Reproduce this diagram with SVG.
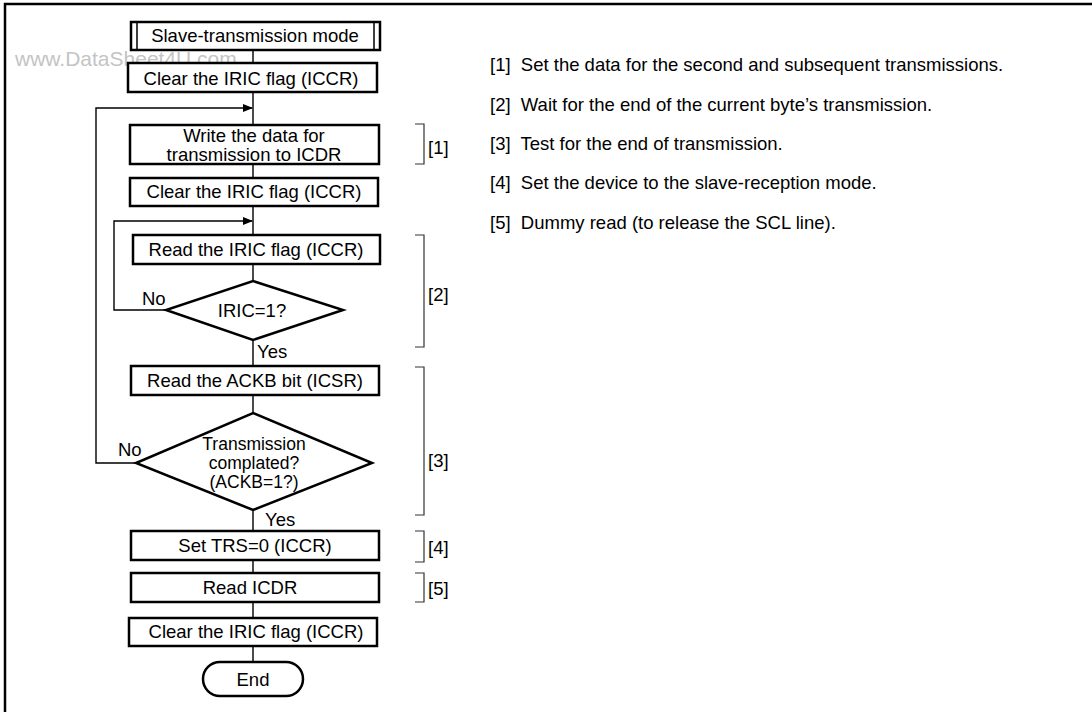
<svg xmlns="http://www.w3.org/2000/svg" width="1092" height="712" viewBox="0 0 1092 712">
<style>
  .box{fill:#fff;stroke:#000;stroke-width:2.5}
  .t{font-family:"Liberation Sans",Arial,sans-serif;font-size:18.5px;fill:#000;text-anchor:middle}
  .d{font-family:"Liberation Sans",Arial,sans-serif;font-size:17.5px;fill:#000;text-anchor:middle}
  .l{font-family:"Liberation Sans",Arial,sans-serif;font-size:18.5px;fill:#000}
  .note{font-family:"Liberation Sans",Arial,sans-serif;font-size:18.5px;fill:#000}
  .c{fill:none;stroke:#000;stroke-width:1.4}
  .br{fill:none;stroke:#333;stroke-width:1.2}
</style>
<defs>
  <marker id="ah" markerWidth="10" markerHeight="8" refX="9" refY="4" orient="auto" markerUnits="userSpaceOnUse">
    <path d="M0,0 L10,4 L0,8 Z" fill="#000"/>
  </marker>
</defs>
<rect width="1092" height="712" fill="#fff"/>
<path d="M5,712 V4 H1092" fill="none" stroke="#000" stroke-width="2.5"/>
<text x="15" y="66" font-family="Liberation Sans,Arial,sans-serif" font-size="21" fill="#c4c4c4">www.DataSheet4U.com</text>

<g id="connectors">
  <path class="c" d="M253,50 V63 M253,92 V125 M253,164 V178 M253,206 V235 M253,264 V281 M253,340 V366 M253,395 V413 M253,510 V531 M253,560 V573 M253,602 V618 M253,646 V662"/>
  <path class="c" d="M136,463 H96 V108 H252" marker-end="url(#ah)"/>
  <path class="c" d="M166,310 H114 V221 H252" marker-end="url(#ah)"/>
</g>

<g id="start">
  <rect class="box" x="131" y="22" width="249" height="28"/>
  <path d="M137,22 V50 M374,22 V50" stroke="#000" stroke-width="1.5"/>
  <text class="t" x="255" y="42">Slave-transmission mode</text>
</g>
<g id="clear1">
  <rect class="box" x="128" y="63" width="249" height="29"/>
  <text class="t" x="251" y="85">Clear the IRIC flag (ICCR)</text>
</g>
<g id="write">
  <rect class="box" x="130" y="125" width="249" height="39"/>
  <text class="t" x="254" y="142">Write the data for</text>
  <text class="t" x="254" y="161">transmission to ICDR</text>
</g>
<g id="clear2">
  <rect class="box" x="130" y="178" width="248" height="28"/>
  <text class="t" x="254" y="198">Clear the IRIC flag (ICCR)</text>
</g>
<g id="readiric">
  <rect class="box" x="133" y="235" width="247" height="29"/>
  <text class="t" x="256" y="256">Read the IRIC flag (ICCR)</text>
</g>
<g id="dec1">
  <polygon class="box" points="253,281 343,310 253,340 166,310"/>
  <text class="t" x="252" y="317">IRIC=1?</text>
  <text class="l" x="142" y="305">No</text>
  <text class="l" x="257" y="358">Yes</text>
</g>
<g id="readackb">
  <rect class="box" x="131" y="366" width="248" height="29"/>
  <text class="t" x="255" y="387">Read the ACKB bit (ICSR)</text>
</g>
<g id="dec2">
  <polygon class="box" points="253,413 372,463 253,510 136,463"/>
  <text class="d" x="254" y="450">Transmission</text>
  <text class="d" x="254" y="469">complated?</text>
  <text class="d" x="254" y="488">(ACKB=1?)</text>
  <text class="l" x="118" y="456">No</text>
  <text class="l" x="265" y="526">Yes</text>
</g>
<g id="settrs">
  <rect class="box" x="131" y="531" width="248" height="29"/>
  <text class="t" x="255" y="552">Set TRS=0 (ICCR)</text>
</g>
<g id="readicdr">
  <rect class="box" x="131" y="573" width="248" height="29"/>
  <text class="t" x="250" y="594">Read ICDR</text>
</g>
<g id="clear3">
  <rect class="box" x="129" y="618" width="248" height="28"/>
  <text class="t" x="256" y="638">Clear the IRIC flag (ICCR)</text>
</g>
<g id="end">
  <rect class="box" x="203" y="662" width="100" height="34" rx="17"/>
  <text class="t" x="253" y="686">End</text>
</g>

<g id="brackets">
  <path class="br" d="M415,124 H424 V164 H415"/>
  <text class="l" x="428" y="154">[1]</text>
  <path class="br" d="M415,235 H424 V347 H415"/>
  <text class="l" x="428" y="301">[2]</text>
  <path class="br" d="M415,367 H424 V515 H415"/>
  <text class="l" x="428" y="467">[3]</text>
  <path class="br" d="M415,531 H424 V562 H415"/>
  <text class="l" x="428" y="554">[4]</text>
  <path class="br" d="M415,573 H424 V602 H415"/>
  <text class="l" x="428" y="595">[5]</text>
</g>

<g id="notes">
  <text class="note" x="490" y="71" xml:space="preserve">[1]  Set the data for the second and subsequent transmissions.</text>
  <text class="note" x="490" y="111" xml:space="preserve">[2]  Wait for the end of the current byte’s transmission.</text>
  <text class="note" x="490" y="150" xml:space="preserve">[3]  Test for the end of transmission.</text>
  <text class="note" x="490" y="189" xml:space="preserve">[4]  Set the device to the slave-reception mode.</text>
  <text class="note" x="490" y="229" xml:space="preserve">[5]  Dummy read (to release the SCL line).</text>
</g>
</svg>
